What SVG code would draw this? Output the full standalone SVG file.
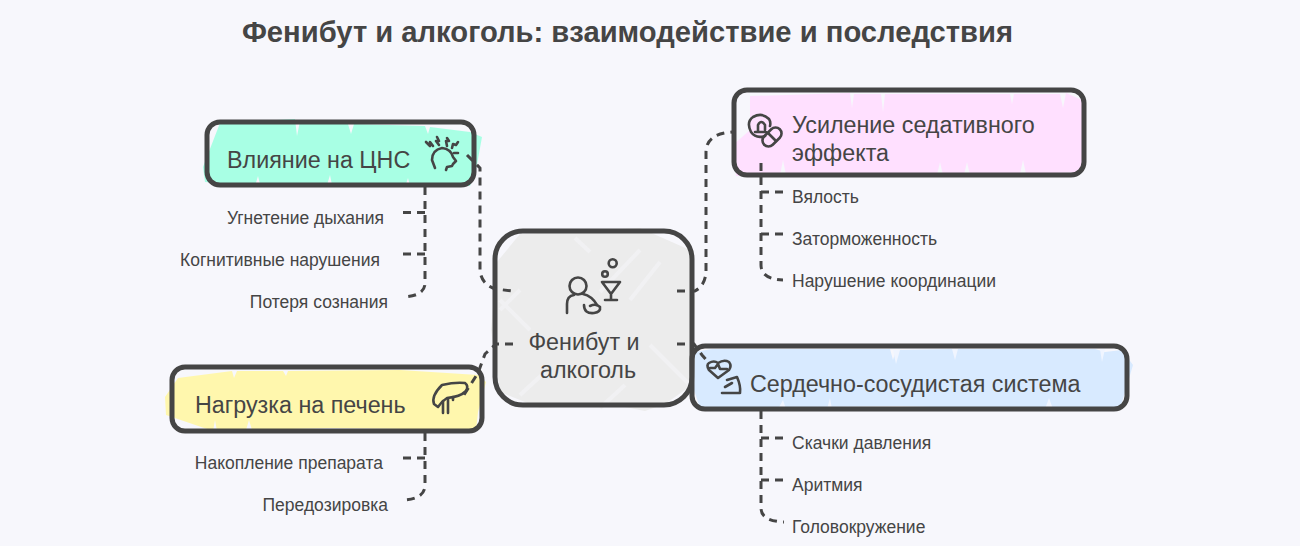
<svg xmlns="http://www.w3.org/2000/svg" width="1300" height="546" viewBox="0 0 1300 546">
<style>
text{font-family:"Liberation Sans",Arial,sans-serif;fill:#454545}
.t{font-size:29.2px;font-weight:bold}
.n{font-size:23.3px}
.l{font-size:17.5px}
.b{fill:none;stroke:#454545;stroke-width:5;stroke-linejoin:round}
.c{fill:none;stroke:#454545;stroke-width:3;stroke-dasharray:8 6}
.i{fill:none;stroke:#454545;stroke-width:2.6;stroke-linecap:round;stroke-linejoin:round}
.h{fill:none;stroke:#f1f1f3;stroke-width:4}
</style>
<rect width="1300" height="546" fill="#f7f7fc"/>
<text class="t" x="627.500" y="42" text-anchor="middle">Фенибут и алкоголь: взаимодействие и последствия</text>
<g id="node-center">
<path d="M497 262L520 234 640 228 690 250 695 300 692 385 665 404 645 411 610 404 540 408 500 392 491 330Z" fill="#ececec"/>
<path class="h" d="M640 250L600 292M660 262L630 300M520 290L500 310M500 300L530 330M650 345L690 385M520 395L545 372M600 408L625 385M575 238L590 252"/>
<rect class="b" x="495" y="231" width="197" height="174" rx="28"/>
<g class="i">
<circle cx="578" cy="286" r="8.500"/>
<path d="M567 313V304Q567 296 574 295M583 294Q592 296 597 305"/>
<path d="M584 305Q584 314 594 313Q601 312 600 307Q596 303 590 306"/>
<path d="M602 282H620L611 294ZM611 294V300M605 300H617"/>
<circle cx="605" cy="274" r="2.800"/>
<circle cx="612.700" cy="263.300" r="4"/>
</g>
<text class="n" x="584" y="350" text-anchor="middle">Фенибут и</text>
<text class="n" x="588" y="378" text-anchor="middle">алкоголь</text>
</g>
<g id="node-cns">
<path d="M220 123L295 119 297 136 300 121 348 124 351 134 354 124 425 126 428 134 430 127 470 132 482 137 476 170 470 186 410 186 408 178 405 187 332 185 330 175 327 185 260 184 258 176 255 186 205 182 203 167Z" fill="#a8ffe4"/>
<rect class="b" x="207" y="122" width="267" height="63" rx="13"/>
<text class="n" x="227" y="168">Влияние на ЦНС</text>
<g class="i">
<path d="M435 168L432 160Q432 150 442 148Q451 149 453 157L456 161 453 164 452 166 447 167 446 170"/>
<path d="M426 142L430 146 430 142 433 146M437 137L439 141 436 141 439 145M447 138L449 141 446 141 447 146M458 142L456 145 453 144 452 148M454 153H458"/>
</g>
</g>
<g id="node-sedative">
<path d="M750 96L850 93 852 108 854 94 881 94 883 112 885 94 1010 94 1012 104 1014 94 1060 94 1063 108 1066 93 1082 100 1085 130 1082 172 1026 174 1023 160 1020 174 970 175 967 162 964 175 943 175 940 162 937 175 786 175 783 160 780 175 736 176 733 145 750 130Z" fill="#ffe0ff"/>
<rect class="b" x="734" y="90" width="350" height="85" rx="13"/>
<text class="n" x="792" y="133">Усиление седативного</text>
<text class="n" x="792" y="161">эффекта</text>
<g class="i">
<path d="M765 136Q756 139 751 132Q746 122 753 117Q762 112 769 119Q771 122 770 126"/>
<path d="M755 132H766M758 131V125Q761 119 765 125V130"/>
<rect x="761" y="131" width="22" height="12" rx="6" transform="rotate(-45 772 137)"/>
<path d="M768 133L776 141"/>
</g>
</g>
<g id="node-cardio">
<path d="M712 349L890 349 893 360 896 350 950 349 1095 349 1105 352 1122 350 1133 365 1120 409 1000 409 900 406 700 408 694 390 695 352Z" fill="#d8eaff"/>
<path d="M893 350L896 364 900 350ZM952 349L955 360 958 349ZM1100 349L1102 362 1105 349ZM1045 409L1049 398 1053 409ZM827 409L830 398 832 409ZM778 409L783 400 786 409Z" fill="#f0f5ff"/>
<rect class="b" x="692" y="346" width="435" height="63" rx="13"/>
<text class="n" x="750" y="392">Сердечно-сосудистая система</text>
<g class="i">
<path d="M718 378L709 370Q706 365 709 363Q714 360 718 363 724 359 729 362Q732 366 729 370Z"/>
<path d="M710 368H715L718 364 720 369H727"/>
<path d="M727 380L737 377Q741 386 740 393H722M725 387L732 383"/>
</g>
</g>
<g id="node-liver">
<path d="M178 378L232 371 234 378 237 371 283 371 286 376 288 371 400 370 478 375 486 382 478 412 476 430 330 428 252 430 249 420 246 430 217 431 215 420 213 431 166 415 165 397Z" fill="#fff7ad"/>
<rect class="b" x="172" y="367" width="310" height="64" rx="13"/>
<text class="n" x="195" y="413">Нагрузка на печень</text>
<g class="i">
<path d="M442 385Q455 382 465 383Q469 386 466 391Q460 397 447 398 442 401 438 407L434 404Q431 396 442 385Z"/>
<path d="M443 413V401M448 413V399M453 397V400"/>
</g>
</g>
<g id="connectors">
<path class="c" d="M467 155L480 168V270Q481 284 495 289L513 291"/>
<path class="c" d="M677 291H695Q706 285 706 270V152Q706 134 732 132"/>
<path class="c" d="M513 344H496L485 354 478 373 462 398"/>
<path class="c" d="M677 344H694L702 355 708 362"/>
<path class="c" d="M425 187V283Q425 296 403 297"/>
<path class="c" d="M425 212.500H403M425 254H403"/>
<path class="c" d="M761 163V265Q761 279 783 280"/>
<path class="c" d="M761 192H783M761 234H783"/>
<path class="c" d="M761 411V508Q761 521 784 522"/>
<path class="c" d="M761 438H784M761 480H784"/>
<path class="c" d="M425 433V485Q425 499 403 500"/>
<path class="c" d="M425 458H403"/>
</g>
<g id="leaf-cns-1"><text class="l" x="384" y="224" text-anchor="end">Угнетение дыхания</text></g>
<g id="leaf-cns-2"><text class="l" x="380" y="266" text-anchor="end">Когнитивные нарушения</text></g>
<g id="leaf-cns-3"><text class="l" x="388" y="308" text-anchor="end">Потеря сознания</text></g>
<g id="leaf-sed-1"><text class="l" x="792" y="203">Вялость</text></g>
<g id="leaf-sed-2"><text class="l" x="792" y="245">Заторможенность</text></g>
<g id="leaf-sed-3"><text class="l" x="792" y="287">Нарушение координации</text></g>
<g id="leaf-car-1"><text class="l" x="792" y="449">Скачки давления</text></g>
<g id="leaf-car-2"><text class="l" x="792" y="491">Аритмия</text></g>
<g id="leaf-car-3"><text class="l" x="792" y="533">Головокружение</text></g>
<g id="leaf-liv-1"><text class="l" x="383" y="469" text-anchor="end">Накопление препарата</text></g>
<g id="leaf-liv-2"><text class="l" x="388" y="511" text-anchor="end">Передозировка</text></g>
</svg>
